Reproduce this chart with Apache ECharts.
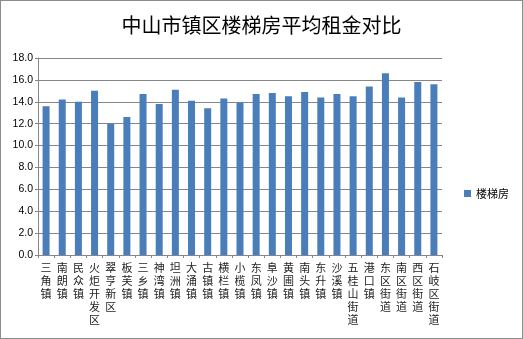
<!DOCTYPE html>
<html>
<head>
<meta charset="utf-8">
<script src="https://cdn.jsdelivr.net/npm/echarts@6/dist/echarts.min.js"></script>
<style>
  html, body { margin: 0; padding: 0; background: #fff; }
  #chart { width: 521px; height: 337px; border: 1px solid #8c8c8c; }
</style>
</head>
<body>
<div id="chart"></div>
<script>
const categories = ['三角镇', '南朗镇', '民众镇', '火炬开发区', '翠亨新区', '板芙镇', '三乡镇', '神湾镇', '坦洲镇',
  '大涌镇', '古镇镇', '横栏镇', '小榄镇', '东凤镇', '阜沙镇', '黄圃镇', '南头镇', '东升镇', '沙溪镇',
  '五桂山街道', '港口镇', '东区街道', '南区街道', '西区街道', '石岐区街道'];
const rents = [13.6, 14.2, 14.0, 15.0, 12.0, 12.6, 14.7, 13.8, 15.1,
  14.1, 13.4, 14.3, 13.9, 14.7, 14.8, 14.5, 14.9, 14.4, 14.7,
  14.5, 15.4, 16.6, 14.4, 15.8, 15.6];
const yTicks = { min: 0, max: 18, interval: 2 };

const chart = echarts.init(document.getElementById('chart'));

chart.setOption({
  animation: false,
  title: {
    text: '中山市镇区楼梯房平均租金对比',
    left: 'center',
    top: 9,
    textStyle: {
      fontFamily: 'Noto Sans CJK SC',
      fontSize: 20,
      fontWeight: 'normal',
      color: '#000'
    }
  },
  legend: {
    orient: 'vertical',
    left: 458,
    top: 182,
    icon: 'rect',
    itemWidth: 7,
    itemHeight: 7,
    itemGap: 4,
    textStyle: { fontFamily: 'Noto Sans CJK SC', fontSize: 11, color: '#000' },
    data: ['楼梯房']
  },
  grid: {
    left: 37,
    right: 80,
    top: 57,
    bottom: 83
  },
  xAxis: {
    type: 'category',
    data: categories,
    boundaryGap: true,
    axisLine: { lineStyle: { color: '#868686' } },
    axisTick: { show: true, length: 3, interval: 0, lineStyle: { color: '#868686' } },
    axisLabel: {
      interval: 0,
      margin: 6,
      fontFamily: 'Noto Sans CJK SC',
      fontSize: 11,
      lineHeight: 13,
      color: '#222',
      formatter: (v) => v.split('').join('\n')
    }
  },
  yAxis: {
    type: 'value',
    min: yTicks.min,
    max: yTicks.max,
    interval: yTicks.interval,
    axisLine: { show: true, lineStyle: { color: '#868686' } },
    axisTick: { show: true, length: 3, lineStyle: { color: '#868686' } },
    axisLabel: {
      margin: 5,
      fontFamily: 'Liberation Sans',
      fontSize: 10.5,
      color: '#000',
      formatter: (v) => v.toFixed(1)
    },
    splitLine: { lineStyle: { color: '#868686', width: 1 } }
  },
  series: [
    {
      name: '楼梯房',
      type: 'bar',
      data: rents,
      barWidth: 7,
      itemStyle: { color: '#4a7ebb' }
    }
  ]
});
</script>
</body>
</html>
